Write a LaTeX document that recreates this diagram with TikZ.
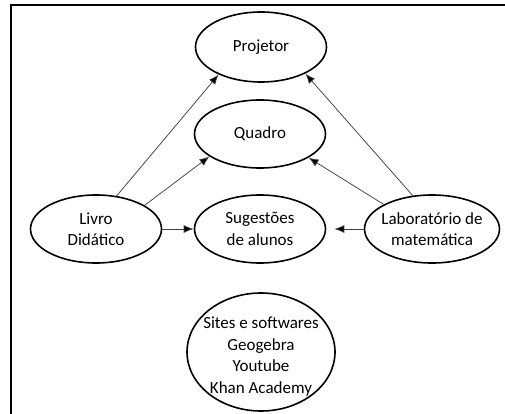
\documentclass[tikz,border=0pt]{standalone}
\usepackage{fontspec}
\setmainfont{Carlito}
\usetikzlibrary{shapes.geometric,arrows.meta}
\begin{document}
\begin{tikzpicture}[x=1pt,y=-1pt,
  bubble/.style={ellipse,draw=black,line width=1.6pt,inner xsep=-14pt,inner ysep=-8pt,
    align=center,font=\fontsize{17}{21.5}\selectfont},
  link/.style={draw=black!75,line width=0.75pt,-{Latex[length=10pt,width=8pt,fill=black]}}]
  \useasboundingbox (0,0) rectangle (505,414);
  % frame: top and left edges only
  \draw[line width=2pt] (10.5,414) -- (10.5,5.5) -- (505,5.5);

  \node[bubble,minimum width=131pt,minimum height=70pt] (proj) at (261,47) {Projetor};
  \node[bubble,minimum width=131pt,minimum height=68pt] (quad) at (260,134) {Quadro};
  \node[bubble,minimum width=131pt,minimum height=68pt] (livro) at (96,229) {Livro\\Didático};
  \node[bubble,minimum width=131pt,minimum height=68pt] (sug) at (260,229) {Sugestões\\de alunos};
  \node[bubble,minimum width=135pt,minimum height=68pt] (lab) at (432,229) {Laboratório de\\matemática};
  \node[bubble,minimum width=148pt,minimum height=118pt] (sites) at (261,352)
    {\rule{0pt}{21pt}Sites e softwares\\Geogebra\\Youtube\\Khan Academy};

  \draw[link] (livro.58) -- (proj.213);
  \draw[link] (livro.26) -- (quad.204);
  \draw[link] (livro.east) -- (sug.west);
  \draw[link] (lab.120) -- (proj.329);
  \draw[link] (lab.153) -- (quad.334);
  \draw[link,shorten >=8pt] (lab.west) -- (sug.east);
\end{tikzpicture}
\end{document}
